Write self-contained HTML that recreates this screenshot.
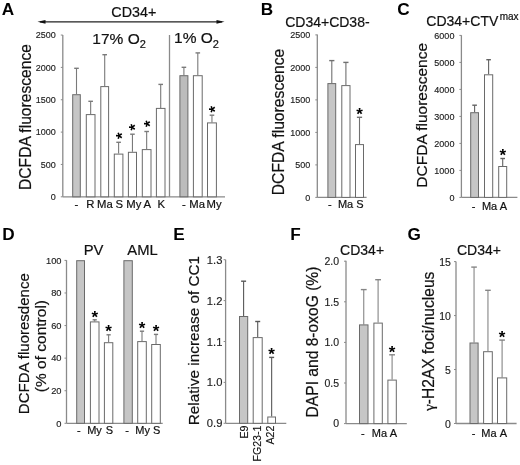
<!DOCTYPE html>
<html><head><meta charset="utf-8"><style>
html,body{margin:0;padding:0;background:#fff;}
svg{display:block;filter:blur(0.3px);}
text{font-family:"Liberation Sans", sans-serif;}
</style></head><body>
<svg width="520" height="465" viewBox="0 0 520 465">
<rect width="520" height="465" fill="#fff"/>
<text x="1.8" y="14.8" font-size="17.2" text-anchor="start" font-weight="bold" fill="#000" >A</text>
<line x1="40" y1="21.8" x2="222" y2="21.8" stroke="#222" stroke-width="1.2"/>
<path d="M37.5,21.8 L45.5,19.9 L45.5,23.7 Z" fill="#111"/>
<path d="M224.5,21.8 L216.5,19.9 L216.5,23.7 Z" fill="#111"/>
<text x="133.8" y="17.0" font-size="14.3" text-anchor="middle" font-weight="normal" fill="#111" stroke="#111" stroke-width="0.2">CD34+</text>
<text x="92.3" y="43.6" font-size="15.5" text-anchor="start" font-weight="normal" fill="#111" stroke="#111" stroke-width="0.2">17% O<tspan font-size="11" dy="4.1">2</tspan></text>
<text x="174.1" y="43.4" font-size="15.5" text-anchor="start" font-weight="normal" fill="#111" stroke="#111" stroke-width="0.2">1% O<tspan font-size="11" dy="4.1">2</tspan></text>
<line x1="62.8" y1="34.9" x2="62.8" y2="196.8" stroke="#8a8a8a" stroke-width="1.3"/>
<line x1="60.8" y1="196.8" x2="62.8" y2="196.8" stroke="#8a8a8a" stroke-width="1"/>
<text x="55.8" y="200.04" font-size="9" text-anchor="end" font-weight="normal" fill="#222" stroke="#222" stroke-width="0.15">0</text>
<line x1="60.8" y1="164.45" x2="62.8" y2="164.45" stroke="#8a8a8a" stroke-width="1"/>
<text x="55.8" y="167.69" font-size="9" text-anchor="end" font-weight="normal" fill="#222" stroke="#222" stroke-width="0.15">500</text>
<line x1="60.8" y1="132.1" x2="62.8" y2="132.1" stroke="#8a8a8a" stroke-width="1"/>
<text x="55.8" y="135.34" font-size="9" text-anchor="end" font-weight="normal" fill="#222" stroke="#222" stroke-width="0.15">1000</text>
<line x1="60.8" y1="99.75" x2="62.8" y2="99.75" stroke="#8a8a8a" stroke-width="1"/>
<text x="55.8" y="102.99" font-size="9" text-anchor="end" font-weight="normal" fill="#222" stroke="#222" stroke-width="0.15">1500</text>
<line x1="60.8" y1="67.4" x2="62.8" y2="67.4" stroke="#8a8a8a" stroke-width="1"/>
<text x="55.8" y="70.64" font-size="9" text-anchor="end" font-weight="normal" fill="#222" stroke="#222" stroke-width="0.15">2000</text>
<line x1="60.8" y1="35.05" x2="62.8" y2="35.05" stroke="#8a8a8a" stroke-width="1"/>
<text x="55.8" y="38.29" font-size="9" text-anchor="end" font-weight="normal" fill="#222" stroke="#222" stroke-width="0.15">2500</text>
<line x1="62.8" y1="196.8" x2="225.0" y2="196.8" stroke="#8a8a8a" stroke-width="1.3"/>
<line x1="169.5" y1="35" x2="169.5" y2="196.8" stroke="#8a8a8a" stroke-width="1.3"/>
<text x="0" y="0" font-size="15.65" text-anchor="middle" fill="#111" stroke="#111" stroke-width="0.2" transform="translate(31.2,117.0) rotate(-90)">DCFDA fluorescence</text>
<line x1="76.5" y1="94.2" x2="76.5" y2="68.3" stroke="#7a7a7a" stroke-width="1.1"/>
<line x1="74.2" y1="68.3" x2="78.8" y2="68.3" stroke="#7a7a7a" stroke-width="1.4"/>
<rect x="72.7" y="94.7" width="7.6" height="102.1" fill="#c6c6c6" stroke="#6a6a6a" stroke-width="1"/>
<line x1="90.65" y1="114.1" x2="90.65" y2="101.3" stroke="#7a7a7a" stroke-width="1.1"/>
<line x1="88.35" y1="101.3" x2="92.95" y2="101.3" stroke="#7a7a7a" stroke-width="1.4"/>
<rect x="86.3" y="114.6" width="8.7" height="82.2" fill="#fff" stroke="#6a6a6a" stroke-width="1"/>
<line x1="104.7" y1="86.1" x2="104.7" y2="54.7" stroke="#7a7a7a" stroke-width="1.1"/>
<line x1="102.4" y1="54.7" x2="107" y2="54.7" stroke="#7a7a7a" stroke-width="1.4"/>
<rect x="100.8" y="86.6" width="7.8" height="110.2" fill="#fff" stroke="#6a6a6a" stroke-width="1"/>
<line x1="118.6" y1="153.6" x2="118.6" y2="142.3" stroke="#7a7a7a" stroke-width="1.1"/>
<line x1="116.3" y1="142.3" x2="120.9" y2="142.3" stroke="#7a7a7a" stroke-width="1.4"/>
<rect x="114.3" y="154.1" width="8.6" height="42.7" fill="#fff" stroke="#6a6a6a" stroke-width="1"/>
<text x="0.0" y="8.94" font-size="17" font-weight="bold" text-anchor="middle" fill="#000" transform="translate(118.60,135.70) rotate(-90)">*</text>
<line x1="132.45" y1="151.8" x2="132.45" y2="134.2" stroke="#7a7a7a" stroke-width="1.1"/>
<line x1="130.15" y1="134.2" x2="134.75" y2="134.2" stroke="#7a7a7a" stroke-width="1.4"/>
<rect x="128.4" y="152.3" width="8.1" height="44.5" fill="#fff" stroke="#6a6a6a" stroke-width="1"/>
<text x="0.0" y="8.94" font-size="17" font-weight="bold" text-anchor="middle" fill="#000" transform="translate(132.45,127.20) rotate(-90)">*</text>
<line x1="146.65" y1="149.1" x2="146.65" y2="131.5" stroke="#7a7a7a" stroke-width="1.1"/>
<line x1="144.35" y1="131.5" x2="148.95" y2="131.5" stroke="#7a7a7a" stroke-width="1.4"/>
<rect x="142.3" y="149.6" width="8.7" height="47.2" fill="#fff" stroke="#6a6a6a" stroke-width="1"/>
<text x="0.0" y="8.94" font-size="17" font-weight="bold" text-anchor="middle" fill="#000" transform="translate(146.65,123.60) rotate(-90)">*</text>
<line x1="160.7" y1="107.9" x2="160.7" y2="84.4" stroke="#7a7a7a" stroke-width="1.1"/>
<line x1="158.4" y1="84.4" x2="163.0" y2="84.4" stroke="#7a7a7a" stroke-width="1.4"/>
<rect x="156.4" y="108.4" width="8.6" height="88.4" fill="#fff" stroke="#6a6a6a" stroke-width="1"/>
<line x1="183.9" y1="75.2" x2="183.9" y2="67.3" stroke="#7a7a7a" stroke-width="1.1"/>
<line x1="181.6" y1="67.3" x2="186.2" y2="67.3" stroke="#7a7a7a" stroke-width="1.4"/>
<rect x="179.9" y="75.7" width="8.0" height="121.1" fill="#bcbcbc" stroke="#6a6a6a" stroke-width="1"/>
<line x1="197.8" y1="75.2" x2="197.8" y2="52.9" stroke="#7a7a7a" stroke-width="1.1"/>
<line x1="195.5" y1="52.9" x2="200.1" y2="52.9" stroke="#7a7a7a" stroke-width="1.4"/>
<rect x="193.4" y="75.7" width="8.8" height="121.1" fill="#fff" stroke="#6a6a6a" stroke-width="1"/>
<line x1="211.95" y1="122.4" x2="211.95" y2="115.2" stroke="#7a7a7a" stroke-width="1.1"/>
<line x1="209.65" y1="115.2" x2="214.25" y2="115.2" stroke="#7a7a7a" stroke-width="1.4"/>
<rect x="207.5" y="122.9" width="8.9" height="73.9" fill="#fff" stroke="#6a6a6a" stroke-width="1"/>
<text x="0.0" y="8.94" font-size="17" font-weight="bold" text-anchor="middle" fill="#000" transform="translate(211.95,109.30) rotate(-90)">*</text>
<text x="76.3" y="207.9" font-size="11.3" text-anchor="middle" font-weight="normal" fill="#111" stroke="#111" stroke-width="0.2">-</text>
<text x="90.45" y="207.9" font-size="11.3" text-anchor="middle" font-weight="normal" fill="#111" stroke="#111" stroke-width="0.2">R</text>
<text x="104.9" y="207.9" font-size="11.3" text-anchor="middle" font-weight="normal" fill="#111" stroke="#111" stroke-width="0.2">Ma</text>
<text x="119.3" y="207.9" font-size="11.3" text-anchor="middle" font-weight="normal" fill="#111" stroke="#111" stroke-width="0.2">S</text>
<text x="133.9" y="207.9" font-size="11.3" text-anchor="middle" font-weight="normal" fill="#111" stroke="#111" stroke-width="0.2">My</text>
<text x="147.3" y="207.9" font-size="11.3" text-anchor="middle" font-weight="normal" fill="#111" stroke="#111" stroke-width="0.2">A</text>
<text x="161.3" y="207.9" font-size="11.3" text-anchor="middle" font-weight="normal" fill="#111" stroke="#111" stroke-width="0.2">K</text>
<text x="183.9" y="207.9" font-size="11.3" text-anchor="middle" font-weight="normal" fill="#111" stroke="#111" stroke-width="0.2">-</text>
<text x="197.1" y="207.9" font-size="11.3" text-anchor="middle" font-weight="normal" fill="#111" stroke="#111" stroke-width="0.2">Ma</text>
<text x="214.0" y="207.9" font-size="11.3" text-anchor="middle" font-weight="normal" fill="#111" stroke="#111" stroke-width="0.2">My</text>
<text x="260.8" y="15.4" font-size="17.2" text-anchor="start" font-weight="bold" fill="#000" >B</text>
<text x="327.4" y="26.5" font-size="14" text-anchor="middle" font-weight="normal" fill="#111" stroke="#111" stroke-width="0.2">CD34+CD38-</text>
<line x1="317.3" y1="34.5" x2="317.3" y2="197.4" stroke="#8a8a8a" stroke-width="1.3"/>
<line x1="315.3" y1="197.4" x2="317.3" y2="197.4" stroke="#8a8a8a" stroke-width="1"/>
<text x="310.3" y="200.64" font-size="9" text-anchor="end" font-weight="normal" fill="#222" stroke="#222" stroke-width="0.15">0</text>
<line x1="315.3" y1="164.9" x2="317.3" y2="164.9" stroke="#8a8a8a" stroke-width="1"/>
<text x="310.3" y="168.14" font-size="9" text-anchor="end" font-weight="normal" fill="#222" stroke="#222" stroke-width="0.15">500</text>
<line x1="315.3" y1="132.4" x2="317.3" y2="132.4" stroke="#8a8a8a" stroke-width="1"/>
<text x="310.3" y="135.64" font-size="9" text-anchor="end" font-weight="normal" fill="#222" stroke="#222" stroke-width="0.15">1000</text>
<line x1="315.3" y1="99.9" x2="317.3" y2="99.9" stroke="#8a8a8a" stroke-width="1"/>
<text x="310.3" y="103.14" font-size="9" text-anchor="end" font-weight="normal" fill="#222" stroke="#222" stroke-width="0.15">1500</text>
<line x1="315.3" y1="67.4" x2="317.3" y2="67.4" stroke="#8a8a8a" stroke-width="1"/>
<text x="310.3" y="70.64" font-size="9" text-anchor="end" font-weight="normal" fill="#222" stroke="#222" stroke-width="0.15">2000</text>
<line x1="315.3" y1="34.9" x2="317.3" y2="34.9" stroke="#8a8a8a" stroke-width="1"/>
<text x="310.3" y="38.14" font-size="9" text-anchor="end" font-weight="normal" fill="#222" stroke="#222" stroke-width="0.15">2500</text>
<line x1="317.3" y1="197.4" x2="366.6" y2="197.4" stroke="#8a8a8a" stroke-width="1.3"/>
<text x="0" y="0" font-size="15.7" text-anchor="middle" fill="#111" stroke="#111" stroke-width="0.2" transform="translate(284.3,122) rotate(-90)">DCFDA fluorescence</text>
<line x1="331.8" y1="83.1" x2="331.8" y2="60.6" stroke="#707070" stroke-width="1.1"/>
<line x1="329.2" y1="60.6" x2="334.4" y2="60.6" stroke="#707070" stroke-width="1.4"/>
<rect x="327.9" y="83.6" width="7.8" height="113.8" fill="#c6c6c6" stroke="#6a6a6a" stroke-width="1"/>
<line x1="345.9" y1="85.1" x2="345.9" y2="62.4" stroke="#707070" stroke-width="1.1"/>
<line x1="343.3" y1="62.4" x2="348.5" y2="62.4" stroke="#707070" stroke-width="1.4"/>
<rect x="341.8" y="85.6" width="8.2" height="111.8" fill="#fff" stroke="#6a6a6a" stroke-width="1"/>
<line x1="359.5" y1="144.1" x2="359.5" y2="117.3" stroke="#707070" stroke-width="1.1"/>
<line x1="356.9" y1="117.3" x2="362.1" y2="117.3" stroke="#707070" stroke-width="1.4"/>
<rect x="355.5" y="144.6" width="8.0" height="52.8" fill="#fff" stroke="#6a6a6a" stroke-width="1"/>
<text x="0.0" y="9.19" font-size="17" font-weight="bold" text-anchor="middle" fill="#000" transform="translate(359.50,110.60)">*</text>
<text x="329.8" y="207.9" font-size="11" text-anchor="middle" font-weight="normal" fill="#111" stroke="#111" stroke-width="0.2">-</text>
<text x="345.6" y="207.9" font-size="11" text-anchor="middle" font-weight="normal" fill="#111" stroke="#111" stroke-width="0.2">Ma</text>
<text x="359.9" y="207.9" font-size="11" text-anchor="middle" font-weight="normal" fill="#111" stroke="#111" stroke-width="0.2">S</text>
<text x="397.3" y="15.3" font-size="17.2" text-anchor="start" font-weight="bold" fill="#000" >C</text>
<text x="426.3" y="26.3" font-size="14" text-anchor="start" font-weight="normal" fill="#111" stroke="#111" stroke-width="0.2">CD34+CTV<tspan font-size="10" dx="1.4" dy="-6.8">max</tspan></text>
<line x1="461.4" y1="35.2" x2="461.4" y2="197.4" stroke="#8a8a8a" stroke-width="1.3"/>
<line x1="459.4" y1="197.4" x2="461.4" y2="197.4" stroke="#8a8a8a" stroke-width="1"/>
<text x="454.4" y="200.64" font-size="9" text-anchor="end" font-weight="normal" fill="#222" stroke="#222" stroke-width="0.15">0</text>
<line x1="459.4" y1="170.4" x2="461.4" y2="170.4" stroke="#8a8a8a" stroke-width="1"/>
<text x="454.4" y="173.64" font-size="9" text-anchor="end" font-weight="normal" fill="#222" stroke="#222" stroke-width="0.15">1000</text>
<line x1="459.4" y1="143.4" x2="461.4" y2="143.4" stroke="#8a8a8a" stroke-width="1"/>
<text x="454.4" y="146.64" font-size="9" text-anchor="end" font-weight="normal" fill="#222" stroke="#222" stroke-width="0.15">2000</text>
<line x1="459.4" y1="116.4" x2="461.4" y2="116.4" stroke="#8a8a8a" stroke-width="1"/>
<text x="454.4" y="119.64" font-size="9" text-anchor="end" font-weight="normal" fill="#222" stroke="#222" stroke-width="0.15">3000</text>
<line x1="459.4" y1="89.4" x2="461.4" y2="89.4" stroke="#8a8a8a" stroke-width="1"/>
<text x="454.4" y="92.64" font-size="9" text-anchor="end" font-weight="normal" fill="#222" stroke="#222" stroke-width="0.15">4000</text>
<line x1="459.4" y1="62.4" x2="461.4" y2="62.4" stroke="#8a8a8a" stroke-width="1"/>
<text x="454.4" y="65.64" font-size="9" text-anchor="end" font-weight="normal" fill="#222" stroke="#222" stroke-width="0.15">5000</text>
<line x1="459.4" y1="35.4" x2="461.4" y2="35.4" stroke="#8a8a8a" stroke-width="1"/>
<text x="454.4" y="38.64" font-size="9" text-anchor="end" font-weight="normal" fill="#222" stroke="#222" stroke-width="0.15">6000</text>
<line x1="461.4" y1="197.4" x2="517.4" y2="197.4" stroke="#8a8a8a" stroke-width="1.3"/>
<text x="0" y="0" font-size="15.5" text-anchor="middle" fill="#111" stroke="#111" stroke-width="0.2" transform="translate(426.8,115.3) rotate(-90)">DCFDA fluorescence</text>
<line x1="474.6" y1="112.2" x2="474.6" y2="105.2" stroke="#626262" stroke-width="1.1"/>
<line x1="472.3" y1="105.2" x2="476.9" y2="105.2" stroke="#626262" stroke-width="1.4"/>
<rect x="470.7" y="112.7" width="7.8" height="84.7" fill="#c6c6c6" stroke="#6a6a6a" stroke-width="1"/>
<line x1="488.6" y1="74.3" x2="488.6" y2="59.7" stroke="#626262" stroke-width="1.1"/>
<line x1="486.3" y1="59.7" x2="490.9" y2="59.7" stroke="#626262" stroke-width="1.4"/>
<rect x="484.5" y="74.8" width="8.2" height="122.6" fill="#fff" stroke="#6a6a6a" stroke-width="1"/>
<line x1="502.7" y1="166.0" x2="502.7" y2="158.5" stroke="#626262" stroke-width="1.1"/>
<line x1="500.4" y1="158.5" x2="505.0" y2="158.5" stroke="#626262" stroke-width="1.4"/>
<rect x="498.7" y="166.5" width="8.0" height="30.9" fill="#fff" stroke="#6a6a6a" stroke-width="1"/>
<text x="0.0" y="9.19" font-size="17" font-weight="bold" text-anchor="middle" fill="#000" transform="translate(502.70,152.10)">*</text>
<text x="473.5" y="209.6" font-size="11" text-anchor="middle" font-weight="normal" fill="#111" stroke="#111" stroke-width="0.2">-</text>
<text x="489.6" y="209.6" font-size="11" text-anchor="middle" font-weight="normal" fill="#111" stroke="#111" stroke-width="0.2">Ma</text>
<text x="503.4" y="209.6" font-size="11" text-anchor="middle" font-weight="normal" fill="#111" stroke="#111" stroke-width="0.2">A</text>
<text x="2.2" y="239.7" font-size="17.2" text-anchor="start" font-weight="bold" fill="#000" >D</text>
<text x="93.6" y="255.1" font-size="14.8" text-anchor="middle" font-weight="normal" fill="#111" stroke="#111" stroke-width="0.2">PV</text>
<text x="142.5" y="255.1" font-size="14.8" text-anchor="middle" font-weight="normal" fill="#111" stroke="#111" stroke-width="0.2">AML</text>
<line x1="66.5" y1="260.2" x2="66.5" y2="423.3" stroke="#8a8a8a" stroke-width="1.3"/>
<line x1="64.5" y1="423.3" x2="66.5" y2="423.3" stroke="#8a8a8a" stroke-width="1"/>
<text x="61.5" y="426.65" font-size="9.3" text-anchor="end" font-weight="normal" fill="#222" stroke="#222" stroke-width="0.15">0</text>
<line x1="64.5" y1="390.72" x2="66.5" y2="390.72" stroke="#8a8a8a" stroke-width="1"/>
<text x="61.5" y="394.07" font-size="9.3" text-anchor="end" font-weight="normal" fill="#222" stroke="#222" stroke-width="0.15">20</text>
<line x1="64.5" y1="358.14" x2="66.5" y2="358.14" stroke="#8a8a8a" stroke-width="1"/>
<text x="61.5" y="361.49" font-size="9.3" text-anchor="end" font-weight="normal" fill="#222" stroke="#222" stroke-width="0.15">40</text>
<line x1="64.5" y1="325.56" x2="66.5" y2="325.56" stroke="#8a8a8a" stroke-width="1"/>
<text x="61.5" y="328.91" font-size="9.3" text-anchor="end" font-weight="normal" fill="#222" stroke="#222" stroke-width="0.15">60</text>
<line x1="64.5" y1="292.98" x2="66.5" y2="292.98" stroke="#8a8a8a" stroke-width="1"/>
<text x="61.5" y="296.33" font-size="9.3" text-anchor="end" font-weight="normal" fill="#222" stroke="#222" stroke-width="0.15">80</text>
<line x1="64.5" y1="260.4" x2="66.5" y2="260.4" stroke="#8a8a8a" stroke-width="1"/>
<text x="61.5" y="263.75" font-size="9.3" text-anchor="end" font-weight="normal" fill="#222" stroke="#222" stroke-width="0.15">100</text>
<line x1="66.5" y1="423.3" x2="162.7" y2="423.3" stroke="#8a8a8a" stroke-width="1.3"/>
<text x="0" y="0" font-size="15" text-anchor="middle" fill="#111" stroke="#111" stroke-width="0.2" transform="translate(28.6,343.7) rotate(-90)">DCFDA fluoresdence</text>
<text x="0" y="0" font-size="15.5" text-anchor="middle" fill="#111" stroke="#111" stroke-width="0.2" transform="translate(45.5,346.1) rotate(-90)">(% of control)</text>
<rect x="76.7" y="260.7" width="7.8" height="162.6" fill="#c6c6c6" stroke="#6a6a6a" stroke-width="1"/>
<line x1="94.7" y1="321.4" x2="94.7" y2="319.8" stroke="#7a7a7a" stroke-width="1.1"/>
<line x1="92.6" y1="319.8" x2="96.8" y2="319.8" stroke="#7a7a7a" stroke-width="1.4"/>
<rect x="90.4" y="321.9" width="8.6" height="101.4" fill="#fff" stroke="#6a6a6a" stroke-width="1"/>
<text x="0.0" y="9.19" font-size="17" font-weight="bold" text-anchor="middle" fill="#000" transform="translate(94.70,313.50)">*</text>
<line x1="108.6" y1="342.2" x2="108.6" y2="334.8" stroke="#7a7a7a" stroke-width="1.1"/>
<line x1="106.5" y1="334.8" x2="110.7" y2="334.8" stroke="#7a7a7a" stroke-width="1.4"/>
<rect x="104.4" y="342.7" width="8.4" height="80.6" fill="#fff" stroke="#6a6a6a" stroke-width="1"/>
<text x="0.0" y="9.19" font-size="17" font-weight="bold" text-anchor="middle" fill="#000" transform="translate(108.60,328.10)">*</text>
<rect x="123.9" y="260.7" width="8.4" height="162.6" fill="#c6c6c6" stroke="#6a6a6a" stroke-width="1"/>
<line x1="142.0" y1="341.1" x2="142.0" y2="331.2" stroke="#7a7a7a" stroke-width="1.1"/>
<line x1="139.9" y1="331.2" x2="144.1" y2="331.2" stroke="#7a7a7a" stroke-width="1.4"/>
<rect x="137.7" y="341.6" width="8.6" height="81.7" fill="#fff" stroke="#6a6a6a" stroke-width="1"/>
<text x="0.0" y="9.19" font-size="17" font-weight="bold" text-anchor="middle" fill="#000" transform="translate(142.00,324.90)">*</text>
<line x1="156.0" y1="344.0" x2="156.0" y2="334.4" stroke="#7a7a7a" stroke-width="1.1"/>
<line x1="153.9" y1="334.4" x2="158.1" y2="334.4" stroke="#7a7a7a" stroke-width="1.4"/>
<rect x="151.7" y="344.5" width="8.6" height="78.8" fill="#fff" stroke="#6a6a6a" stroke-width="1"/>
<text x="0.0" y="9.19" font-size="17" font-weight="bold" text-anchor="middle" fill="#000" transform="translate(156.00,327.50)">*</text>
<text x="78.8" y="434.2" font-size="11" text-anchor="middle" font-weight="normal" fill="#111" stroke="#111" stroke-width="0.2">-</text>
<text x="94.5" y="434.2" font-size="11" text-anchor="middle" font-weight="normal" fill="#111" stroke="#111" stroke-width="0.2">My</text>
<text x="109.3" y="434.2" font-size="11" text-anchor="middle" font-weight="normal" fill="#111" stroke="#111" stroke-width="0.2">S</text>
<text x="127.0" y="434.2" font-size="11" text-anchor="middle" font-weight="normal" fill="#111" stroke="#111" stroke-width="0.2">-</text>
<text x="142.6" y="434.2" font-size="11" text-anchor="middle" font-weight="normal" fill="#111" stroke="#111" stroke-width="0.2">My</text>
<text x="156.6" y="434.2" font-size="11" text-anchor="middle" font-weight="normal" fill="#111" stroke="#111" stroke-width="0.2">S</text>
<text x="173.3" y="240.2" font-size="17.2" text-anchor="start" font-weight="bold" fill="#000" >E</text>
<line x1="225.6" y1="259.7" x2="225.6" y2="423.3" stroke="#8a8a8a" stroke-width="1.3"/>
<line x1="223.6" y1="423.3" x2="225.6" y2="423.3" stroke="#8a8a8a" stroke-width="1"/>
<text x="222.4" y="427.33" font-size="11.2" text-anchor="end" font-weight="normal" fill="#222" stroke="#222" stroke-width="0.15">0.9</text>
<line x1="223.6" y1="382.4" x2="225.6" y2="382.4" stroke="#8a8a8a" stroke-width="1"/>
<text x="222.4" y="386.43" font-size="11.2" text-anchor="end" font-weight="normal" fill="#222" stroke="#222" stroke-width="0.15">1.0</text>
<line x1="223.6" y1="341.5" x2="225.6" y2="341.5" stroke="#8a8a8a" stroke-width="1"/>
<text x="222.4" y="345.53" font-size="11.2" text-anchor="end" font-weight="normal" fill="#222" stroke="#222" stroke-width="0.15">1.1</text>
<line x1="223.6" y1="300.6" x2="225.6" y2="300.6" stroke="#8a8a8a" stroke-width="1"/>
<text x="222.4" y="304.63" font-size="11.2" text-anchor="end" font-weight="normal" fill="#222" stroke="#222" stroke-width="0.15">1.2</text>
<line x1="223.6" y1="259.7" x2="225.6" y2="259.7" stroke="#8a8a8a" stroke-width="1"/>
<text x="222.4" y="263.73" font-size="11.2" text-anchor="end" font-weight="normal" fill="#222" stroke="#222" stroke-width="0.15">1.3</text>
<line x1="225.6" y1="423.3" x2="286.3" y2="423.3" stroke="#8a8a8a" stroke-width="1.3"/>
<text x="0" y="0" font-size="15.3" text-anchor="middle" fill="#111" stroke="#111" stroke-width="0.2" transform="translate(199.2,340.6) rotate(-90)">Relative increase of CC1</text>
<line x1="243.6" y1="316.0" x2="243.6" y2="281.2" stroke="#585858" stroke-width="1.1"/>
<line x1="241.1" y1="281.2" x2="246.1" y2="281.2" stroke="#585858" stroke-width="1.4"/>
<rect x="239.5" y="316.5" width="8.2" height="106.8" fill="#c6c6c6" stroke="#6a6a6a" stroke-width="1"/>
<line x1="257.7" y1="337.1" x2="257.7" y2="321.5" stroke="#585858" stroke-width="1.1"/>
<line x1="255.2" y1="321.5" x2="260.2" y2="321.5" stroke="#585858" stroke-width="1.4"/>
<rect x="253.2" y="337.6" width="9.0" height="85.7" fill="#fff" stroke="#6a6a6a" stroke-width="1"/>
<line x1="271.65" y1="416.5" x2="271.65" y2="357.4" stroke="#585858" stroke-width="1.1"/>
<line x1="269.15" y1="357.4" x2="274.15" y2="357.4" stroke="#585858" stroke-width="1.4"/>
<rect x="267.8" y="417.0" width="7.7" height="6.3" fill="#fff" stroke="#6a6a6a" stroke-width="1"/>
<text x="0.0" y="9.19" font-size="17" font-weight="bold" text-anchor="middle" fill="#000" transform="translate(271.65,350.90)">*</text>
<text x="0" y="0" font-size="10.6" text-anchor="end" fill="#111" stroke="#111" stroke-width="0.15" transform="translate(247.8,425.6) rotate(-90)">E9</text>
<text x="0" y="0" font-size="10.6" text-anchor="end" fill="#111" stroke="#111" stroke-width="0.15" transform="translate(261.3,425.6) rotate(-90)">FG23-1</text>
<text x="0" y="0" font-size="10.6" text-anchor="end" fill="#111" stroke="#111" stroke-width="0.15" transform="translate(274.0,425.6) rotate(-90)">A22</text>
<text x="290.2" y="239.8" font-size="17.2" text-anchor="start" font-weight="bold" fill="#000" >F</text>
<text x="362.1" y="255.2" font-size="14" text-anchor="middle" font-weight="normal" fill="#111" stroke="#111" stroke-width="0.2">CD34+</text>
<line x1="346.0" y1="260.8" x2="346.0" y2="423.6" stroke="#8a8a8a" stroke-width="1.3"/>
<line x1="344.0" y1="423.6" x2="346.0" y2="423.6" stroke="#8a8a8a" stroke-width="1"/>
<text x="339.0" y="427.38" font-size="10.5" text-anchor="end" font-weight="normal" fill="#222" stroke="#222" stroke-width="0.15">0</text>
<line x1="344.0" y1="383.0" x2="346.0" y2="383.0" stroke="#8a8a8a" stroke-width="1"/>
<text x="339.0" y="386.78" font-size="10.5" text-anchor="end" font-weight="normal" fill="#222" stroke="#222" stroke-width="0.15">0.5</text>
<line x1="344.0" y1="342.4" x2="346.0" y2="342.4" stroke="#8a8a8a" stroke-width="1"/>
<text x="339.0" y="346.18" font-size="10.5" text-anchor="end" font-weight="normal" fill="#222" stroke="#222" stroke-width="0.15">1.0</text>
<line x1="344.0" y1="301.8" x2="346.0" y2="301.8" stroke="#8a8a8a" stroke-width="1"/>
<text x="339.0" y="305.58" font-size="10.5" text-anchor="end" font-weight="normal" fill="#222" stroke="#222" stroke-width="0.15">1.5</text>
<line x1="344.0" y1="261.2" x2="346.0" y2="261.2" stroke="#8a8a8a" stroke-width="1"/>
<text x="339.0" y="264.98" font-size="10.5" text-anchor="end" font-weight="normal" fill="#222" stroke="#222" stroke-width="0.15">2.0</text>
<line x1="346.0" y1="423.6" x2="406.8" y2="423.6" stroke="#8a8a8a" stroke-width="1.3"/>
<text x="0" y="0" font-size="15.6" text-anchor="middle" fill="#111" stroke="#111" stroke-width="0.2" transform="translate(318.3,342) rotate(-90)">DAPI and 8-oxoG (%)</text>
<line x1="363.75" y1="324.4" x2="363.75" y2="289.6" stroke="#858585" stroke-width="1.1"/>
<line x1="360.85" y1="289.6" x2="366.65" y2="289.6" stroke="#858585" stroke-width="1.4"/>
<rect x="359.5" y="324.9" width="8.5" height="98.7" fill="#c6c6c6" stroke="#6a6a6a" stroke-width="1"/>
<line x1="378.1" y1="322.6" x2="378.1" y2="279.7" stroke="#858585" stroke-width="1.1"/>
<line x1="375.2" y1="279.7" x2="381.0" y2="279.7" stroke="#858585" stroke-width="1.4"/>
<rect x="373.9" y="323.1" width="8.4" height="100.5" fill="#fff" stroke="#6a6a6a" stroke-width="1"/>
<line x1="392.1" y1="379.6" x2="392.1" y2="354.8" stroke="#858585" stroke-width="1.1"/>
<line x1="389.2" y1="354.8" x2="395.0" y2="354.8" stroke="#858585" stroke-width="1.4"/>
<rect x="387.9" y="380.1" width="8.4" height="43.5" fill="#fff" stroke="#6a6a6a" stroke-width="1"/>
<text x="0.0" y="9.19" font-size="17" font-weight="bold" text-anchor="middle" fill="#000" transform="translate(392.10,348.30)">*</text>
<text x="362.9" y="437" font-size="11" text-anchor="middle" font-weight="normal" fill="#111" stroke="#111" stroke-width="0.2">-</text>
<text x="379.5" y="437" font-size="11" text-anchor="middle" font-weight="normal" fill="#111" stroke="#111" stroke-width="0.2">Ma</text>
<text x="393.3" y="437" font-size="11" text-anchor="middle" font-weight="normal" fill="#111" stroke="#111" stroke-width="0.2">A</text>
<text x="407.6" y="240.3" font-size="17.2" text-anchor="start" font-weight="bold" fill="#000" >G</text>
<text x="478.9" y="255.2" font-size="14" text-anchor="middle" font-weight="normal" fill="#111" stroke="#111" stroke-width="0.2">CD34+</text>
<line x1="456.0" y1="261.5" x2="456.0" y2="423.5" stroke="#8a8a8a" stroke-width="1.3"/>
<line x1="454.0" y1="423.5" x2="456.0" y2="423.5" stroke="#8a8a8a" stroke-width="1"/>
<text x="450.9" y="427.88" font-size="10.5" text-anchor="end" font-weight="normal" fill="#222" stroke="#222" stroke-width="0.15">0</text>
<line x1="454.0" y1="369.53" x2="456.0" y2="369.53" stroke="#8a8a8a" stroke-width="1"/>
<text x="450.9" y="373.91" font-size="10.5" text-anchor="end" font-weight="normal" fill="#222" stroke="#222" stroke-width="0.15">5</text>
<line x1="454.0" y1="315.57" x2="456.0" y2="315.57" stroke="#8a8a8a" stroke-width="1"/>
<text x="450.9" y="319.95" font-size="10.5" text-anchor="end" font-weight="normal" fill="#222" stroke="#222" stroke-width="0.15">10</text>
<line x1="454.0" y1="261.6" x2="456.0" y2="261.6" stroke="#8a8a8a" stroke-width="1"/>
<text x="450.9" y="265.98" font-size="10.5" text-anchor="end" font-weight="normal" fill="#222" stroke="#222" stroke-width="0.15">15</text>
<line x1="456.0" y1="423.5" x2="516.6" y2="423.5" stroke="#8a8a8a" stroke-width="1.3"/>
<text x="0" y="0" font-size="15.6" text-anchor="middle" fill="#111" stroke="#111" stroke-width="0.2" transform="translate(434.2,341.3) rotate(-90)"><tspan font-family="Liberation Serif" font-size="15.3">&#947;</tspan>-H2AX foci/nucleus</text>
<line x1="474.05" y1="342.5" x2="474.05" y2="267.1" stroke="#858585" stroke-width="1.1"/>
<line x1="471.25" y1="267.1" x2="476.85" y2="267.1" stroke="#858585" stroke-width="1.4"/>
<rect x="470.0" y="343.0" width="8.1" height="80.5" fill="#c6c6c6" stroke="#6a6a6a" stroke-width="1"/>
<line x1="487.95" y1="351.2" x2="487.95" y2="290.3" stroke="#858585" stroke-width="1.1"/>
<line x1="485.15" y1="290.3" x2="490.75" y2="290.3" stroke="#858585" stroke-width="1.4"/>
<rect x="483.6" y="351.7" width="8.7" height="71.8" fill="#fff" stroke="#6a6a6a" stroke-width="1"/>
<line x1="502.1" y1="377.4" x2="502.1" y2="340.1" stroke="#858585" stroke-width="1.1"/>
<line x1="499.3" y1="340.1" x2="504.9" y2="340.1" stroke="#858585" stroke-width="1.4"/>
<rect x="497.5" y="377.9" width="9.2" height="45.6" fill="#fff" stroke="#6a6a6a" stroke-width="1"/>
<text x="0.0" y="9.19" font-size="17" font-weight="bold" text-anchor="middle" fill="#000" transform="translate(502.10,333.60)">*</text>
<text x="473.5" y="437" font-size="11" text-anchor="middle" font-weight="normal" fill="#111" stroke="#111" stroke-width="0.2">-</text>
<text x="489" y="437" font-size="11" text-anchor="middle" font-weight="normal" fill="#111" stroke="#111" stroke-width="0.2">Ma</text>
<text x="503.5" y="437" font-size="11" text-anchor="middle" font-weight="normal" fill="#111" stroke="#111" stroke-width="0.2">A</text>
</svg>
</body></html>
